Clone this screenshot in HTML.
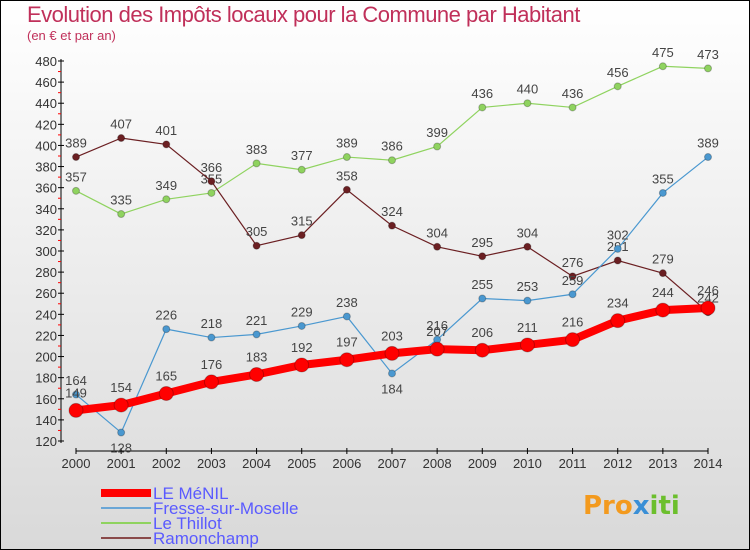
<!DOCTYPE html>
<html><head><meta charset="utf-8"><style>
body{margin:0}
#c{width:748px;height:548px;border:1px solid #000;position:relative;background:linear-gradient(#fff,#d9d9d9);font-family:"Liberation Sans",sans-serif;overflow:hidden}
.t{position:absolute;left:26px;top:1px;font-size:22px;color:#c0305a;letter-spacing:-0.5px}
.s{position:absolute;left:26px;top:27px;font-size:13px;color:#c0305a}
</style></head><body>
<div id="c">
<div class="t">Evolution des Impôts locaux pour la Commune par Habitant</div>
<div class="s">(en € et par an)</div>
<svg id="svg" width="748" height="548" style="position:absolute;left:0;top:0"></svg>
<div style="position:absolute;left:582px;top:490px;font-size:26px;font-weight:bold;font-family:'DejaVu Sans',sans-serif;letter-spacing:0px"><span style="color:#f39a1e">Pro</span><span style="color:#3a8fd6">x</span><span style="color:#6cbf2d">iti</span></div>
</div>
<script>
const years=["2000","2001","2002","2003","2004","2005","2006","2007","2008","2009","2010","2011","2012","2013","2014"];
const yTicks=[120,140,160,180,200,220,240,260,280,300,320,340,360,380,400,420,440,460,480];
const menil=[149,154,165,176,183,192,197,203,207,206,211,216,234,244,246];
const fresse=[164,128,226,218,221,229,238,184,216,255,253,259,302,355,389];
const thillot=[357,335,349,355,383,377,389,386,399,436,440,436,456,475,473];
const ramon=[389,407,401,366,305,315,358,324,304,295,304,276,291,279,242];
const names=["LE MéNIL","Fresse-sur-Moselle","Le Thillot","Ramonchamp"];
const NS="http://www.w3.org/2000/svg",svg=document.getElementById('svg');
const X=i=>75+i*(707-75)/14, Y=v=>440-(v-120)*380/360;
function mk(t,a,p){const e=document.createElementNS(NS,t);for(const k in a)e.setAttribute(k,a[k]);(p||svg).appendChild(e);return e;}
const ax=mk('g',{});


mk('line',{x1:60,y1:Y(480)-2,x2:60,y2:Y(120)+2,stroke:'#000'},ax);
mk('line',{x1:X(0),y1:450,x2:X(14),y2:450,stroke:'#000'},ax);
yTicks.forEach(v=>{mk('line',{x1:57,x2:63,y1:Y(v),y2:Y(v),stroke:'#000'},ax);
 if(v<480)mk('line',{x1:57,x2:60,y1:Y(v+10),y2:Y(v+10),stroke:'#f00'},ax);
 const t=mk('text',{x:56,y:Y(v)+5,'text-anchor':'end','font-size':13,fill:'#333'},ax);t.textContent=v;
 });
years.forEach((y,i)=>{mk('line',{x1:X(i),x2:X(i),y1:447,y2:453,stroke:'#000'},ax);
 const t=mk('text',{x:X(i),y:467,'text-anchor':'middle','font-size':13,fill:'#333'},ax);t.textContent=y;
 });
function series(d,col,w,r,name,below){
 const g=mk('g',{});
 
 
 mk('polyline',{points:d.map((v,i)=>X(i)+','+Y(v)).join(' '),fill:'none',stroke:col,'stroke-width':w},g);
 d.forEach((v,i)=>{const c=mk('circle',{cx:X(i),cy:Y(v),r:r,fill:col,stroke:'rgba(0,0,0,0.25)'},g);
  
  const b=below&&below.includes(i);
  const t=mk('text',{x:X(i),y:b?Y(v)+20:Y(v)-(r+6),'text-anchor':'middle','font-size':13,fill:'#444'},g);t.textContent=v;
  });
}
series(thillot,'#8fd35f',1.2,3.5,'series-le-thillot');
series(ramon,'#6b1f22',1.2,3.5,'series-ramonchamp');
series(fresse,'#4a98d0',1.2,3.5,'series-fresse',[1,7]);
series(menil,'#f00',8,7,'series-le-menil');
const cols=['#f00','#6aa6d6','#8fd35f','#8a4a4a'],ws=[8,2,2,2];
names.forEach((n,i)=>{const y=492+i*15;const g=mk('g',{});
 
 mk('line',{x1:100,x2:150,y1:y,y2:y,stroke:cols[i],'stroke-width':ws[i]},g);
 const t=mk('text',{x:152,y:y+6,'font-size':17,fill:'#5a5aff','textLength':0},g);t.removeAttribute('textLength');t.textContent=n;});
</script>
</body></html>
